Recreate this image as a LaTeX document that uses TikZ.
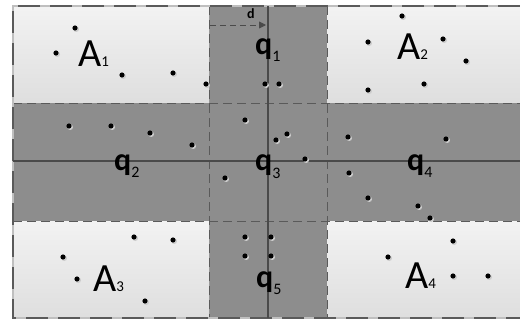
\documentclass[tikz,border=0pt]{standalone}
\usepackage{fontspec}
\setmainfont{Carlito}
\usetikzlibrary{arrows.meta}
\definecolor{cornerfill}{HTML}{EAEAEA}
\definecolor{bandfill}{HTML}{8D8D8D}
\definecolor{edgegray}{HTML}{5A5A5A}
\definecolor{linegray}{HTML}{4A4A4A}
\newcommand{\alab}[1]{{\fontsize{40}{40}\selectfont A}{\fontsize{15}{15}\selectfont #1}}
\newcommand{\qlab}[1]{{\fontsize{32}{32}\selectfont\bfseries q}\raisebox{-7pt}{\fontsize{16}{16}\selectfont #1}}
\tikzset{
  corner/.style={top color=cornerfill!60!white, bottom color=cornerfill!95!black},
  band/.style={fill=bandfill},
  outeredge/.style={draw=edgegray, line width=1.6pt, dash pattern=on 22pt off 10pt},
  inneredge/.style={draw=edgegray, line width=0.8pt, dash pattern=on 9pt off 5pt},
  axis/.style={draw=linegray, line width=1.4pt},
  dot/.style={fill=black},
  dotshadow/.style={fill=white!80!black},
  lab/.style={inner sep=0pt, anchor=base west}
}
\begin{document}
\begin{tikzpicture}[x=1pt,y=-1pt]
		\useasboundingbox (0,0) rectangle (520,321);
		\fill[white] (0,0) rectangle (520,321);
		
		% Bands (vertical and horizontal)
		\fill[band] (209,6) rectangle (327,318);
		\fill[band] (13,103) rectangle (520,221);
		
		% Corner regions
		\foreach \xa/\ya/\xb/\yb in {13/6/209/103, 327/6/520/103, 13/221/209/318, 327/221/520/318}{
			\fill[corner] (\xa,\ya) rectangle (\xb,\yb);
		}
		
		% Inner borders of the bands
		\draw[inneredge] (13,103) -- (520,103);
		\draw[inneredge] (13,221) -- (520,221);
		\draw[inneredge] (209,6) -- (209,318);
		\draw[inneredge] (327,6) -- (327,318);
		
		% Outer frame (no right side)
		\draw[white!75!black, line width=1.6pt] (520,6) -- (13,6) -- (13,318) -- (520,318);
		\draw[outeredge] (520,6) -- (13,6) -- (13,318) -- (520,318);
		
		% Axes through the middle
		\draw[axis] (268,6) -- (268,318);
		\draw[axis] (13,161) -- (520,161);
		
		% Distance d
		\coordinate (dstart) at (210,25);
		\coordinate (dend) at (266,25);
		\draw[draw=linegray, dashed, dash pattern=on 6pt off 4pt, line width=0.9pt,
		-{Triangle[length=7pt,width=7pt,fill=linegray]}] (dstart) -- (dend);
		\node[lab] (dlab) at (247,18.5) {\fontsize{14}{14}\selectfont\bfseries d};
		
		% Points
		\foreach \px/\py in {75/28, 56/53, 122/75, 173/73, 206/84,
			265/84, 279/84,
			402/16, 368/42, 443/39, 466/61, 368/90, 424/84,
			69/126, 111/126, 150/133, 192/145,
			245/120, 276/140, 287/134, 305/159, 225/178,
			348/137, 446/139, 349/173, 368/198, 418/206, 430/218,
			134/237, 173/240, 63/257, 77/279, 145/301,
			245/237, 271/237, 245/256, 271/256,
			453/241, 388/257, 453/276, 488/276}{
			\fill[dotshadow] (\px+1.2,\py+1.2) circle (2.8);
			\fill[dot] (\px,\py) circle (2.6);
		}
		
		% Region labels
		\node[lab] (a1) at (78,66.5) {\alab{1}};
		\node[lab] (a2) at (397,60) {\alab{2}};
		\node[lab] (a3) at (93,291) {\alab{3}};
		\node[lab] (a4) at (405,288) {\alab{4}};
		
		% Band labels
		\node[lab] (q1) at (255,55) {\qlab{1}};
		\node[lab] (q2) at (114,170) {\qlab{2}};
		\node[lab] (q3) at (255,171) {\qlab{3}};
		\node[lab] (q4) at (407,170) {\qlab{4}};
		\node[lab] (q5) at (256,287) {\qlab{5}};
	\end{tikzpicture}
\end{document}
